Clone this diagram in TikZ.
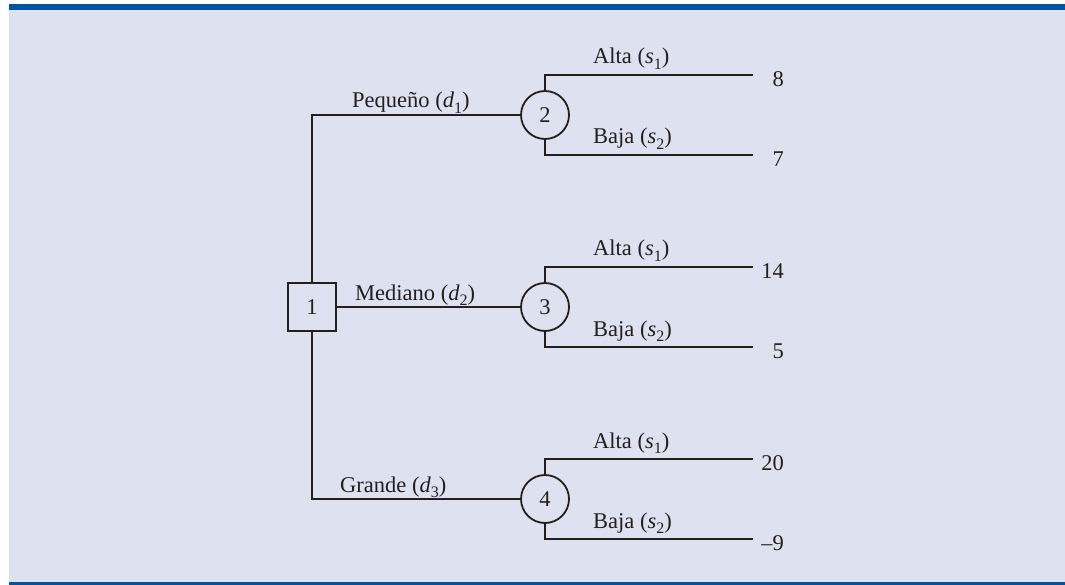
\documentclass[tikz,border=0pt]{standalone}
\usepackage{fontspec}
\setmainfont{Liberation Serif}
\definecolor{bgc}{HTML}{DEE2F0}
\definecolor{barc}{HTML}{0055A2}
\definecolor{inkc}{HTML}{231F20}
\newcommand\vsub[2]{\textit{#1}\raisebox{-0.25em}{\fontsize{16}{16}\selectfont #2}}
\begin{document}
\begin{tikzpicture}[x=1pt,y=-1pt,
  every node/.style={font=\fontsize{22.5}{27}\selectfont, text=inkc},
  branch/.style={draw=inkc, line width=1.8pt},
  decbox/.style={draw=inkc, line width=1.8pt, rectangle, minimum size=48pt, inner sep=0pt},
  chance/.style={draw=inkc, line width=1.8pt, circle, minimum size=48pt, inner sep=0pt},
  lbl/.style={anchor=base west, inner sep=0pt},
  val/.style={anchor=base east, inner sep=0pt}]
\useasboundingbox (0,0) rectangle (1065,585);
\fill[white] (0,0) rectangle (1065,585);
\fill[bgc] (9,4) rectangle (1065,585);
\fill[barc] (9,4) rectangle (1065,10);
\fill[barc] (9,582) rectangle (1065,585);

\node[decbox] (n1) at (312,307) {1};
\node[chance] (n2) at (545,115) {2};
\node[chance] (n3) at (545,307) {3};
\node[chance] (n4) at (545,499) {4};

\draw[branch] (n1.north) |- (n2.west);
\draw[branch] (n1.east) -- (n3.west);
\draw[branch] (n1.south) |- (n4.west);

\node[lbl] (l1) at (352,108) {Pequeño (\vsub{d}{1})};
\node[lbl] (l2) at (355,300) {Mediano (\vsub{d}{2})};
\node[lbl] (l3) at (340,492) {Grande (\vsub{d}{3})};

\coordinate (e2a) at (753,75);
\coordinate (e2b) at (753,155);
\coordinate (e3a) at (753,267);
\coordinate (e3b) at (753,347);
\coordinate (e4a) at (753,459);
\coordinate (e4b) at (753,539);

\draw[branch] (n2.north) |- (e2a);
\draw[branch] (n2.south) |- (e2b);
\draw[branch] (n3.north) |- (e3a);
\draw[branch] (n3.south) |- (e3b);
\draw[branch] (n4.north) |- (e4a);
\draw[branch] (n4.south) |- (e4b);

\node[lbl] (a2) at (593,64) {Alta (\vsub{s}{1})};
\node[lbl] (b2) at (593,144) {Baja (\vsub{s}{2})};
\node[lbl] (a3) at (593,256) {Alta (\vsub{s}{1})};
\node[lbl] (b3) at (593,336) {Baja (\vsub{s}{2})};
\node[lbl] (a4) at (593,448) {Alta (\vsub{s}{1})};
\node[lbl] (b4) at (593,528) {Baja (\vsub{s}{2})};

\node[val] (v2a) at (784,86.5) {8};
\node[val] (v2b) at (784,166.5) {7};
\node[val] (v3a) at (784,278.5) {14};
\node[val] (v3b) at (784,358.5) {5};
\node[val] (v4a) at (784,470.5) {20};
\node[val] (v4b) at (784,550.5) {–9};
\end{tikzpicture}
\end{document}
